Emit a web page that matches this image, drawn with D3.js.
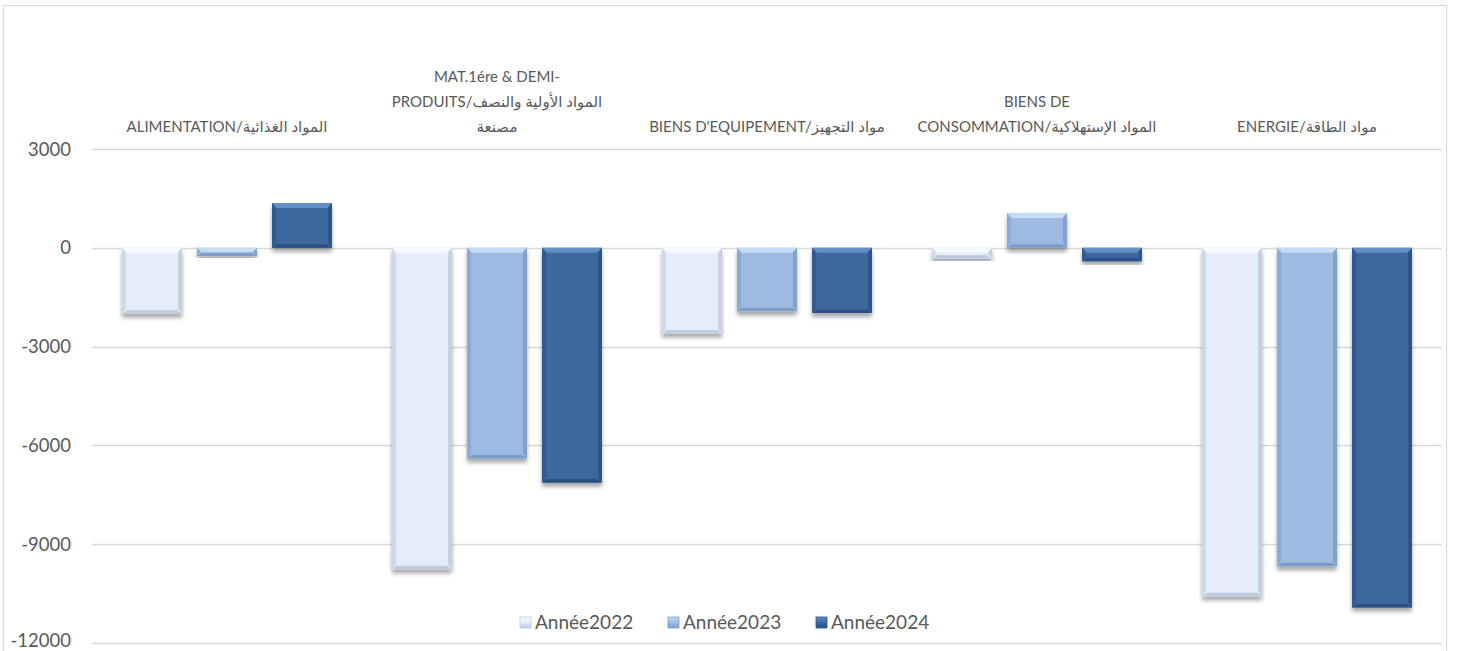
<!DOCTYPE html>
<html>
<head>
<meta charset="utf-8">
<script src="https://cdn.jsdelivr.net/npm/d3@7"></script>
<style>
  body { margin: 0; background: #fff; }
  text { font-family: Lato, "DejaVu Sans", sans-serif; fill: #595959; }
</style>
</head>
<body>
<svg id="chart" width="1457" height="651"></svg>
<script>
// categories, as wrapped on the chart (one entry per line)
const categories = ["ALIM", "MAT", "EQUIP", "CONSO", "ENERGIE"];
const categoryLabels = [
  ["ALIMENTATION/المواد الغذائية"],
  ["MAT.1ére & DEMI-", "PRODUITS/المواد الأولية والنصف", "مصنعة"],
  ["BIENS D'EQUIPEMENT/مواد التجهيز"],
  ["BIENS DE", "CONSOMMATION/المواد الإستهلاكية"],
  ["ENERGIE/مواد الطاقة"]
];
const years = ["Année2022", "Année2023", "Année2024"];
const values2022 = [-2000, -9760, -2600, -330, -10580];
const values2023 = [-250, -6400, -1930, 1060, -9670];
const values2024 = [1360, -7130, -1980, -410, -10920];
const yTicks = [3000, 0, -3000, -6000, -9000, -12000];

const series = [values2022, values2023, values2024];
const palette = [
  {base: "#e4edf9", light: "#f7faff", dark: "#bccbdf"},
  {base: "#9dbbe2", light: "#c6dbf4", dark: "#7b9cc8"},
  {base: "#3c689e", light: "#6190c8", dark: "#2a4f82"}
];

const W = 1457, H = 651;
const plot = {left: 92, right: 1442, top: 149, bottom: 643};

const svg = d3.select("#chart");

// drop shadow under the bars
const defs = svg.append("defs");
defs.append("filter").attr("id", "shadow")
  .attr("x", "-20%").attr("y", "-20%").attr("width", "140%").attr("height", "140%")
  .append("feDropShadow")
  .attr("dx", 0).attr("dy", 4).attr("stdDeviation", 2)
  .attr("flood-color", "#000").attr("flood-opacity", 0.35);

// small vertical gradients for the legend keys
palette.forEach((col, s) => {
  const gr = defs.append("linearGradient").attr("id", "key" + s)
    .attr("x1", 0).attr("y1", 0).attr("x2", 0).attr("y2", 1);
  gr.append("stop").attr("offset", 0).attr("stop-color", col.light);
  gr.append("stop").attr("offset", 0.5).attr("stop-color", col.base);
  gr.append("stop").attr("offset", 1).attr("stop-color", col.dark);
});

// chart border
svg.append("rect")
  .attr("x", 3.5).attr("y", 5.5).attr("width", 1443).attr("height", 700)
  .attr("fill", "none").attr("stroke", "#d9d9d9").attr("stroke-width", 1.3);

const y = d3.scaleLinear().domain([-12000, 3000]).range([plot.bottom, plot.top]);
const x = d3.scaleBand().domain(categories).range([plot.left, plot.right]);
const xs = d3.scaleBand().domain(years).range([30, x.bandwidth() - 30]).paddingInner(0.2);

// gridlines
svg.append("g").selectAll("line").data(yTicks).enter().append("line")
  .attr("x1", plot.left).attr("x2", plot.right)
  .attr("y1", d => Math.round(y(d)) + 0.5).attr("y2", d => Math.round(y(d)) + 0.5)
  .attr("stroke", "#d9d9d9").attr("stroke-width", 1.3);

// y labels
svg.append("g").selectAll("text").data(yTicks).enter().append("text")
  .attr("x", 71).attr("y", d => Math.min(y(d) + 6.5, 647))
  .attr("text-anchor", "end").attr("font-size", 18.5)
  .text(d => d);

// category labels on top
const labelG = svg.append("g");
categories.forEach((c, i) => {
  const lines = categoryLabels[i];
  const cx = x(c) + x.bandwidth() / 2;
  lines.forEach((ln, j) => {
    labelG.append("text")
      .attr("x", cx)
      .attr("y", 132 - (lines.length - 1 - j) * 25)
      .attr("text-anchor", "middle").attr("font-size", 15)
      .text(ln);
  });
});

// bevelled bar
function bar(g, x0, y0, w, h, col) {
  const b = Math.min(5, h / 2);
  const grp = g.append("g");
  grp.append("rect").attr("x", x0).attr("y", y0).attr("width", w).attr("height", h)
    .attr("fill", col.base).attr("filter", "url(#shadow)");
  // top highlight
  grp.append("polygon")
    .attr("points", [[x0, y0], [x0 + w, y0], [x0 + w - b, y0 + b], [x0 + b, y0 + b]].join(" "))
    .attr("fill", col.light);
  // sides
  grp.append("polygon")
    .attr("points", [[x0, y0], [x0 + b * 0.8, y0 + b], [x0 + b * 0.8, y0 + h - b], [x0, y0 + h]].join(" "))
    .attr("fill", col.dark).attr("opacity", 0.55);
  grp.append("polygon")
    .attr("points", [[x0 + w, y0], [x0 + w - b * 0.8, y0 + b], [x0 + w - b * 0.8, y0 + h - b], [x0 + w, y0 + h]].join(" "))
    .attr("fill", col.dark).attr("opacity", 0.8);
  // bottom
  grp.append("polygon")
    .attr("points", [[x0, y0 + h], [x0 + w, y0 + h], [x0 + w - b, y0 + h - b * 0.7], [x0 + b, y0 + h - b * 0.7]].join(" "))
    .attr("fill", col.dark);
}

const barsG = svg.append("g");
series.forEach((vals, s) => {
  vals.forEach((v, i) => {
    const x0 = x(categories[i]) + xs(years[s]);
    const top = y(Math.max(0, v)), bot = y(Math.min(0, v));
    bar(barsG, x0, top, xs.bandwidth(), bot - top, palette[s]);
  });
});

// legend
const legendX = [520, 668, 816];
const legend = svg.append("g");
years.forEach((yr, s) => {
  legend.append("rect")
    .attr("x", legendX[s]).attr("y", 617).attr("width", 11).attr("height", 11)
    .attr("fill", "url(#key" + s + ")")
    .attr("stroke", palette[s].dark).attr("stroke-width", 0.8);
  legend.append("text")
    .attr("x", legendX[s] + 15).attr("y", 629)
    .attr("font-size", 19).text(yr);
});
</script>
</body>
</html>
